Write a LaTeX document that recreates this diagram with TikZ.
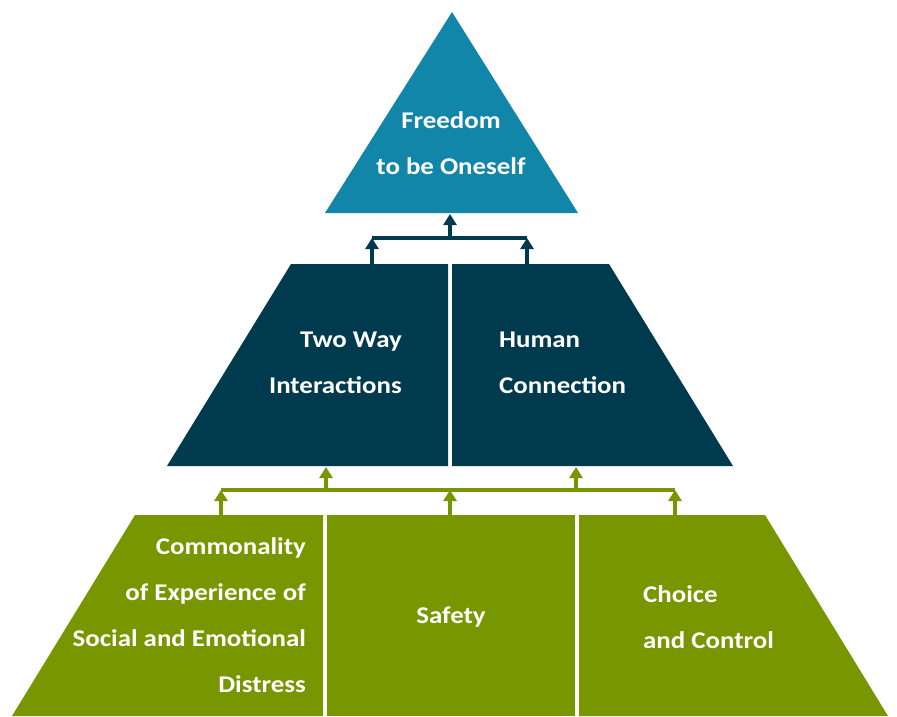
\documentclass[tikz,border=0pt]{standalone}
\usepackage{fontspec}
\setmainfont{Carlito}[FakeStretch=1.12]
\usetikzlibrary{arrows.meta}
\definecolor{topblue}{RGB}{18,134,168}
\definecolor{midnavy}{RGB}{0,58,78}
\definecolor{baseolive}{RGB}{120,150,0}
\begin{document}
\begin{tikzpicture}[x=1pt,y=-1pt,
 lbl/.style={text=white,inner sep=0pt,font=\bfseries\fontsize{24}{46}\selectfont},
 navyarrow/.style={draw=midnavy,line width=3.2pt,-{Triangle[width=13pt,length=11pt]}},
 olivearrow/.style={draw=baseolive,line width=3.2pt,-{Triangle[width=13pt,length=11pt]}},
 navybar/.style={draw=midnavy,line width=3.2pt},
 olivebar/.style={draw=baseolive,line width=3.2pt}]
 \useasboundingbox (0,0) rectangle (897,716);
 \fill[topblue](452,12)--(578,213)--(325,213)--cycle;
 \fill[midnavy](291,264)--(448,264)--(448,466)--(167,466)--cycle;
 \fill[midnavy](452,264)--(609,264)--(733,466)--(452,466)--cycle;
 \fill[baseolive](135,515)--(323,515)--(323,716)--(12,716)--cycle;
 \fill[baseolive](327,515)--(575,515)--(575,716)--(327,716)--cycle;
 \fill[baseolive](579,515)--(765,515)--(888,716)--(579,716)--cycle;

 \node[lbl,align=center] (freedom) at (451,143) {Freedom\\to be Oneself};
 \node[lbl,align=right,anchor=east] (twoway) at (402,363) {Two Way\\Interactions};
 \node[lbl,align=left,anchor=west] (human) at (499,363) {Human\\Connection};
 \node[lbl,align=right,anchor=east] (common) at (306,615) {Commonality\\of Experience of\\Social and Emotional\\Distress};
 \node[lbl] (safety) at (451,617) {Safety};
 \node[lbl,align=left,anchor=west] (choice) at (643,617) {Choice\\and Control};

 \coordinate (freedombase) at (450,214);
 \coordinate (navyhub) at (450,238);
 \coordinate (twowaybar) at (372,238);
 \coordinate (humanbar) at (527,238);
 \coordinate (twowaytop) at (372,264);
 \coordinate (humantop) at (527,264);
 \draw[navybar] (twowaybar)--(humanbar);
 \draw[navyarrow] (twowaytop)--(twowaybar);
 \draw[navyarrow] (humantop)--(humanbar);
 \draw[navyarrow] (navyhub)--(freedombase);

 \coordinate (twowaybase) at (326,467);
 \coordinate (humanbase) at (576,467);
 \coordinate (oliveleft) at (221,490);
 \coordinate (olivehub) at (450,490);
 \coordinate (oliveright) at (675,490);
 \coordinate (commontop) at (221,515);
 \coordinate (safetytop) at (450,515);
 \coordinate (choicetop) at (675,515);
 \draw[olivebar] (oliveleft)--(oliveright);
 \draw[olivearrow] (commontop)--(oliveleft);
 \draw[olivearrow] (safetytop)--(olivehub);
 \draw[olivearrow] (choicetop)--(oliveright);
 \draw[olivearrow] (oliveleft-|twowaybase)--(twowaybase);
 \draw[olivearrow] (oliveleft-|humanbase)--(humanbase);
\end{tikzpicture}
\end{document}
